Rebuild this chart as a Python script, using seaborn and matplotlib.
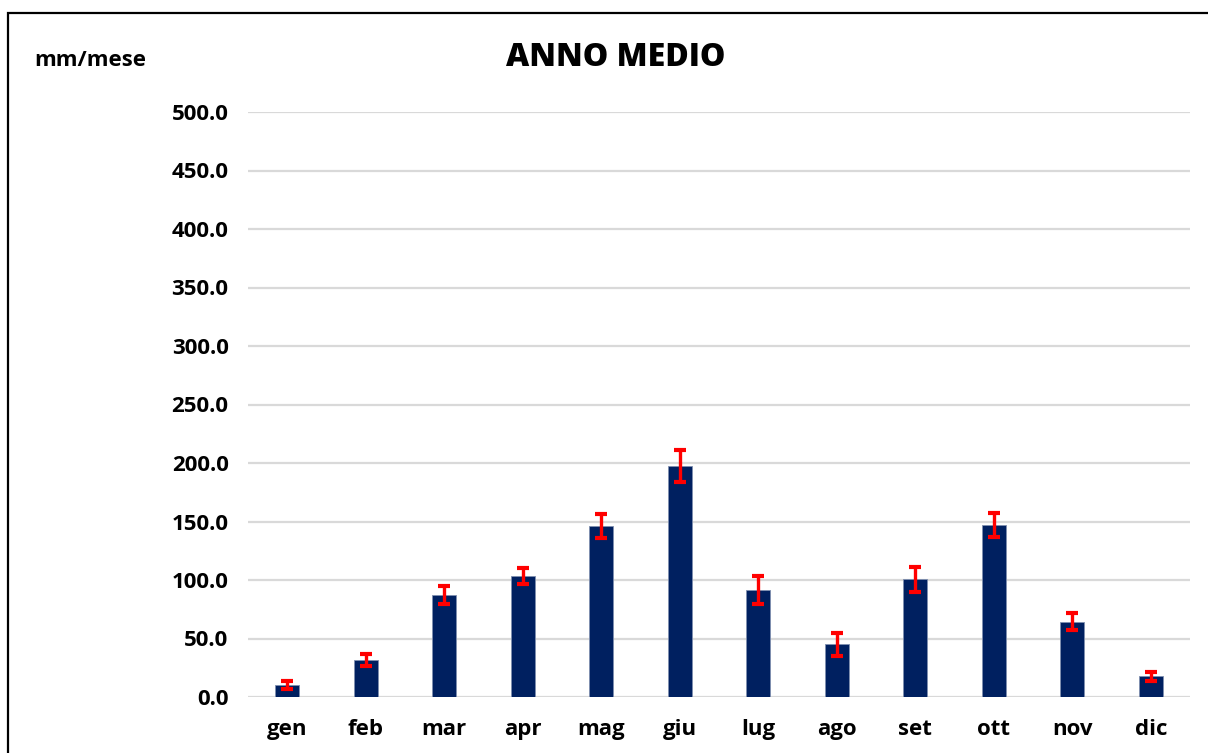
import matplotlib

matplotlib.use("Agg")
import matplotlib.pyplot as plt
import pandas as pd
import seaborn as sns
from matplotlib.patches import Polygon

# monthly mean rainfall (mm/month) with error half-widths
months = ["gen", "feb", "mar", "apr", "mag", "giu", "lug", "ago", "set", "ott", "nov", "dic"]
rain = [10.3, 31.6, 87.2, 103.4, 145.9, 197.4, 91.5, 45.0, 100.6, 147.0, 64.4, 17.7]
err = [3.4, 5.3, 7.3, 7.2, 10.1, 13.4, 11.6, 10.0, 10.6, 10.3, 7.2, 3.7]
yticks = [0, 50, 100, 150, 200, 250, 300, 350, 400, 450, 500]

BAR = "#002060"
FONT = "Open Sans"

df = pd.DataFrame({"month": months, "rain": rain, "err": err})

sns.set_style("white")
plt.rcParams["font.family"] = [FONT, "DejaVu Sans"]
plt.rcParams["font.weight"] = "bold"

W, H = 1208, 753
fig = plt.figure(figsize=(W / 100, H / 100), dpi=100)
ax = fig.add_axes([248 / W, 1 - 697 / H, (1190 - 248) / W, (697 - 112) / H])

sns.barplot(data=df, x="month", y="rain", color=BAR, saturation=1, width=0.31,
            edgecolor="#8090b0", linewidth=0.6, ax=ax, zorder=3)
ax.errorbar(range(len(months)), df["rain"], yerr=df["err"], fmt="none",
            ecolor="#ff0000", elinewidth=2.4, capsize=4.5, capthick=3, zorder=4)

ax.set_ylim(0, 500)
ax.set_xlim(-0.5, len(months) - 0.5)
ax.set_yticks(yticks)
ax.set_yticklabels([f"{v:.1f}" for v in yticks])
ax.yaxis.grid(True, color="#d9d9d9", linewidth=1.6, zorder=0)
ax.set_axisbelow(True)
for side in ["top", "right", "left", "bottom"]:
    ax.spines[side].set_visible(False)
ax.tick_params(axis="y", length=0, pad=14, labelsize=16, labelcolor="black")
ax.tick_params(axis="x", length=0, pad=16, labelsize=16, labelcolor="black")
for lab in ax.get_xticklabels() + ax.get_yticklabels():
    lab.set_fontweight("bold")
ax.set_xlabel("")
ax.set_ylabel("")

fig.text(616 / W, 1 - 58 / H, "ANNO MEDIO", ha="center", va="center",
         fontsize=23, fontweight=800, color="black")
fig.text(34 / W, 1 - 61 / H, "mm/mese", ha="left", va="center",
         fontsize=16, fontweight="bold", color="black")

# chart-area frame (left and top edges visible)
frame = Polygon([[8 / W, 0], [8 / W, 1 - 13 / H], [1.01, 1 - 13 / H]], closed=False,
                fill=False, edgecolor="black", linewidth=1.6, transform=fig.transFigure)
fig.patches.append(frame)

fig.savefig("out.png", dpi=100)
plt.close(fig)
